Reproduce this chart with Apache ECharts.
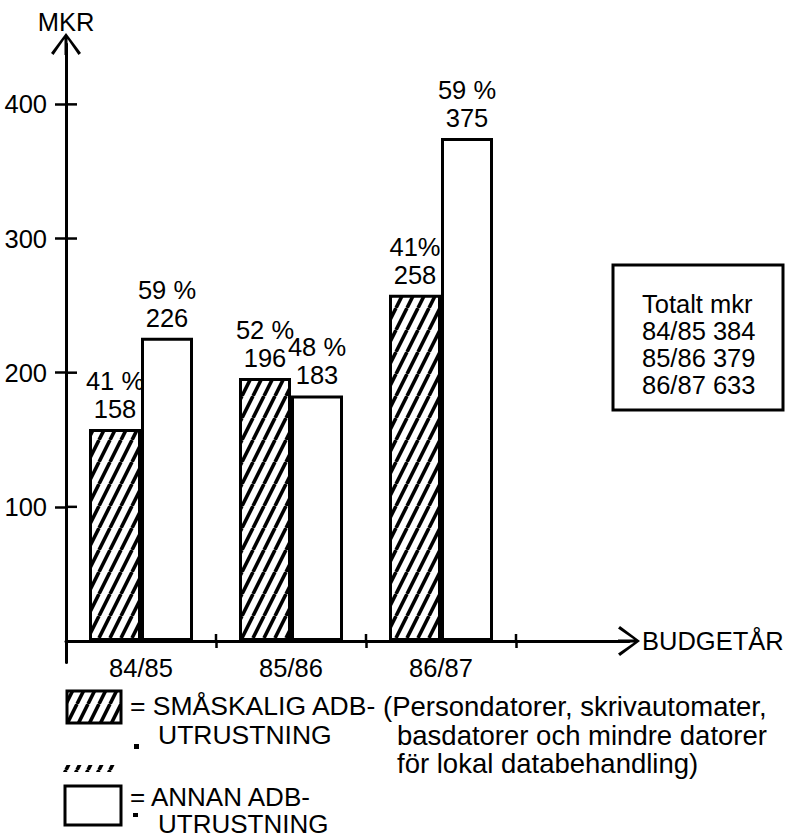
<!DOCTYPE html>
<html>
<head>
<meta charset="utf-8">
<script src="https://cdn.jsdelivr.net/npm/echarts@6/dist/echarts.min.js"></script>
<style>
html,body{margin:0;padding:0;background:#fff;}
#chart{width:788px;height:838px;}
</style>
</head>
<body>
<div id="chart"></div>
<script>
// ---- data ----
const categories = ['84/85', '85/86', '86/87'];
const smaValues = [158, 196, 258];
const annanValues = [226, 183, 375];
const smaPct = ['41 %', '52 %', '41%'];
const annanPct = ['59 %', '48 %', '59 %'];
const yTicks = [100, 200, 300, 400];
const totalsTitle = 'Totalt mkr';
const totalsLines = ['84/85 384', '85/86 379', '86/87 633'];
const yName = 'MKR';
const xName = 'BUDGETÅR';
const legendSma = ['= SMÅSKALIG ADB-', 'UTRUSTNING'];
const legendAnnan = ['= ANNAN ADB-', 'UTRUSTNING'];
const noteLines = ['(Persondatorer, skrivautomater,', 'basdatorer och mindre datorer', 'för lokal databehandling)'];

// ---- styles ----
const FONT = '"Liberation Sans", Arial, Helvetica, sans-serif';
const FS = 25.5;

function makeHatch() {
  const c = document.createElement('canvas');
  c.width = 11; c.height = 22;
  const ctx = c.getContext('2d');
  ctx.fillStyle = '#fff';
  ctx.fillRect(0, 0, 11, 22);
  ctx.strokeStyle = '#000';
  ctx.lineWidth = 3.6;
  [-11, 0, 11].forEach(o => {
    ctx.beginPath();
    ctx.moveTo(o, 22);
    ctx.lineTo(o + 11, 0);
    ctx.stroke();
  });
  return c.toDataURL();
}
const hatch = { image: makeHatch(), repeat: 'repeat' };
const chevron = 'path://M15,0 L30,20 L27.5,22 L16.5,6 L16.5,22 L13.5,22 L13.5,6 L2.5,22 L0,20 Z';

const chart = echarts.init(document.getElementById('chart'), null, { renderer: 'svg' });

const YMAX = 445, YSTUB = -16;
const gridTop = 44, plotBottom = 197, stubBottom = 175.5;

const txt = (x, y, text, size) => ({
  type: 'text', x: x, y: y,
  style: { text: text, fill: '#000', font: (size || FS) + 'px ' + FONT, textVerticalAlign: 'middle' }
});

const tickStyle = { color: '#000', width: 2.5 };

const option = {
  backgroundColor: '#fff',
  animation: false,
  textStyle: { fontFamily: FONT, color: '#000' },
  grid: [
    { left: 66, top: gridTop, width: 450, bottom: plotBottom },   // 0: bars
    { left: 66, top: gridTop, width: 563, bottom: stubBottom }    // 1: arrow axes
  ],
  xAxis: [
    {
      type: 'category', gridIndex: 0, data: categories, position: 'bottom',
      axisLine: { show: false },
      axisTick: { show: true, length: 7, lineStyle: tickStyle },
      axisLabel: { color: '#000', fontSize: FS, fontFamily: FONT, margin: 14 },
      splitLine: { show: false }
    },
    {
      type: 'value', gridIndex: 1, min: 0, max: 1,
      axisLine: { show: true, onZero: true, symbol: ['none', chevron], symbolSize: [30, 22],
        lineStyle: { color: '#000', width: 3 } },
      axisTick: { show: false }, axisLabel: { show: false }, splitLine: { show: false },
      name: xName, nameLocation: 'end', nameGap: 13,
      nameTextStyle: { color: '#000', fontSize: FS, fontFamily: FONT, align: 'left', verticalAlign: 'middle' }
    }
  ],
  yAxis: [
    {
      type: 'value', gridIndex: 0, min: 0, max: YMAX, position: 'left',
      axisLine: { show: false },
      axisTick: { show: true, customValues: yTicks, length: 11, lineStyle: tickStyle },
      axisLabel: { customValues: yTicks, color: '#000', fontSize: FS, fontFamily: FONT, margin: 19 },
      splitLine: { show: false }
    },
    {
      type: 'value', gridIndex: 1, min: YSTUB, max: YMAX, position: 'left',
      axisLine: { show: true, onZero: false, symbol: ['none', chevron], symbolSize: [30, 22],
        lineStyle: { color: '#000', width: 3 } },
      axisTick: { show: false }, axisLabel: { show: false }, splitLine: { show: false },
      name: yName, nameLocation: 'end', nameGap: 9,
      nameTextStyle: { color: '#000', fontSize: FS, fontFamily: FONT, align: 'center' }
    }
  ],
  series: [
    {
      type: 'bar', name: 'SMÅSKALIG ADB-UTRUSTNING', xAxisIndex: 0, yAxisIndex: 0,
      data: smaValues, barWidth: 52, barGap: '0%',
      itemStyle: { color: hatch, borderColor: '#000', borderWidth: 3 },
      label: {
        show: true, position: 'top', distance: 6, color: '#000', fontSize: FS, fontFamily: FONT, lineHeight: 28,
        formatter: p => smaPct[p.dataIndex] + '\n' + p.value
      }
    },
    {
      type: 'bar', name: 'ANNAN ADB-UTRUSTNING', xAxisIndex: 0, yAxisIndex: 0,
      data: annanValues, barWidth: 52, barGap: '0%',
      itemStyle: { color: '#fff', borderColor: '#000', borderWidth: 3 },
      label: {
        show: true, position: 'top', distance: 6, color: '#000', fontSize: FS, fontFamily: FONT, lineHeight: 28,
        formatter: p => annanPct[p.dataIndex] + '\n' + p.value
      }
    }
  ],
  graphic: [
    // totals box
    { type: 'rect', shape: { x: 613, y: 265, width: 170, height: 145 },
      style: { fill: '#fff', stroke: '#000', lineWidth: 3 } },
    txt(642, 304, totalsTitle),
    txt(642, 331, totalsLines[0]),
    txt(642, 358, totalsLines[1]),
    txt(642, 385, totalsLines[2]),
    // legend
    { type: 'rect', shape: { x: 67, y: 691, width: 54, height: 32 },
      style: { fill: hatch, stroke: '#000', lineWidth: 3 } },
    txt(130, 706, legendSma[0], 26.5),
    txt(158, 735, legendSma[1], 26.5),
    { type: 'rect', shape: { x: 62, y: 765, width: 55, height: 7 }, style: { fill: hatch, stroke: null } },
    { type: 'rect', shape: { x: 134, y: 744, width: 5, height: 5 }, style: { fill: '#000' } },
    { type: 'rect', shape: { x: 65, y: 786, width: 56, height: 39 },
      style: { fill: '#fff', stroke: '#000', lineWidth: 3 } },
    txt(130, 797, legendAnnan[0], 26),
    txt(158, 824, legendAnnan[1], 26),
    { type: 'rect', shape: { x: 133, y: 813, width: 5, height: 4 }, style: { fill: '#000' } },
    txt(383, 706, noteLines[0], 27.5),
    txt(397, 735, noteLines[1], 27.5),
    txt(397, 763, noteLines[2], 27.5)
  ]
};
chart.setOption(option);

// inner halves of the crossing tick marks, positioned through the axes' own scales
try {
  const axisX = chart.convertToPixel({ xAxisIndex: 1 }, 0);
  const axisY = chart.convertToPixel({ yAxisIndex: 0 }, 0);
  const extra = [];
  yTicks.forEach(v => {
    const y = chart.convertToPixel({ yAxisIndex: 0 }, v);
    extra.push({ type: 'line', shape: { x1: axisX, y1: y, x2: axisX + 11, y2: y },
      style: { stroke: '#000', lineWidth: 2.5 }, z: 10 });
  });
  const centers = categories.map(c => chart.convertToPixel({ xAxisIndex: 0 }, c));
  const half = (centers[1] - centers[0]) / 2;
  centers.forEach(cx => {
    const bx = cx + half;
    extra.push({ type: 'line', shape: { x1: bx, y1: axisY, x2: bx, y2: axisY - 7 },
      style: { stroke: '#000', lineWidth: 2.5 }, z: 10 });
  });
  if (extra.every(e => isFinite(e.shape.x1) && isFinite(e.shape.y1))) {
    option.graphic = option.graphic.concat(extra);
    chart.setOption(option, true);
  }
} catch (e) { /* keep the chart as is */ }
</script>
</body>
</html>
